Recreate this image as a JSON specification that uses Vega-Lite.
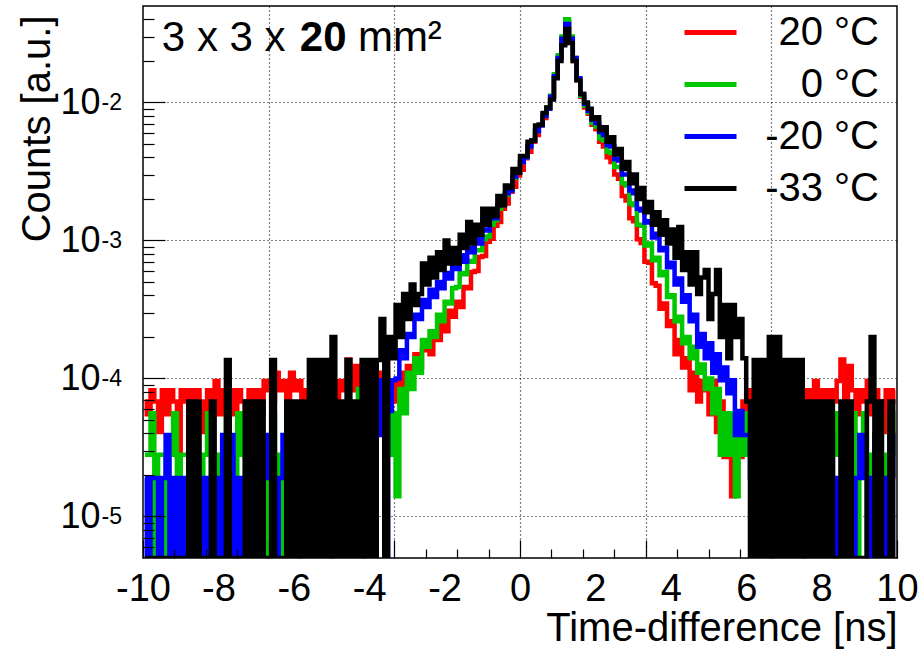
{
  "$schema": "https://vega.github.io/schema/vega-lite/v6.json",
  "width": 754,
  "height": 552,
  "autosize": {"type": "none"},
  "padding": {"left": 143, "top": 6, "right": 25, "bottom": 91},
  "background": "white",
  "config": {
    "view": {"stroke": "#000", "strokeWidth": 1.5},
    "font": "Liberation Sans"
  },
  "data": {
    "values": [
      {"x":-9.95,"r":6.8e-5,"g":2.8e-5,"b":1.9e-5,"k":1e-7},
      {"x":-9.85,"r":5.5e-5,"g":2.8e-5,"b":1e-7,"k":1e-7},
      {"x":-9.75,"r":8.2e-5,"g":5.6e-5,"b":1.9e-5,"k":1e-7},
      {"x":-9.65,"r":6.8e-5,"g":1e-7,"b":1.9e-5,"k":1e-7},
      {"x":-9.55,"r":4.1e-5,"g":2.8e-5,"b":1e-7,"k":1e-7},
      {"x":-9.45,"r":8.2e-5,"g":2.8e-5,"b":1.9e-5,"k":1e-7},
      {"x":-9.35,"r":5.5e-5,"g":1e-7,"b":3.9e-5,"k":1e-7},
      {"x":-9.25,"r":8.2e-5,"g":2.8e-5,"b":1e-7,"k":1e-7},
      {"x":-9.15,"r":6.8e-5,"g":5.6e-5,"b":1.9e-5,"k":1e-7},
      {"x":-9.05,"r":2.7e-5,"g":1e-7,"b":1e-7,"k":1e-7},
      {"x":-8.95,"r":8.2e-5,"g":2.8e-5,"b":1.9e-5,"k":1e-7},
      {"x":-8.85,"r":6.8e-5,"g":2.8e-5,"b":1e-7,"k":1e-7},
      {"x":-8.75,"r":8.2e-5,"g":1e-7,"b":1.9e-5,"k":6.8e-5},
      {"x":-8.65,"r":5.5e-5,"g":5.6e-5,"b":1e-7,"k":1e-7},
      {"x":-8.55,"r":8.2e-5,"g":2.8e-5,"b":1.9e-5,"k":6.8e-5},
      {"x":-8.45,"r":6.8e-5,"g":1e-7,"b":1.9e-5,"k":1e-7},
      {"x":-8.35,"r":4.1e-5,"g":2.8e-5,"b":1e-7,"k":1e-7},
      {"x":-8.25,"r":8.2e-5,"g":5.6e-5,"b":1.9e-5,"k":1e-7},
      {"x":-8.15,"r":6.8e-5,"g":1e-7,"b":1e-7,"k":6.8e-5},
      {"x":-8.05,"r":9.6e-5,"g":2.8e-5,"b":1.9e-5,"k":1e-7},
      {"x":-7.95,"r":5.5e-5,"g":1e-7,"b":1e-7,"k":1e-7},
      {"x":-7.85,"r":8.2e-5,"g":2.8e-5,"b":3.9e-5,"k":1e-7},
      {"x":-7.75,"r":6.8e-5,"g":5.6e-5,"b":1.9e-5,"k":1.36e-4},
      {"x":-7.65,"r":8.2e-5,"g":2.8e-5,"b":3.9e-5,"k":1e-7},
      {"x":-7.55,"r":5.5e-5,"g":1e-7,"b":1e-7,"k":1e-7},
      {"x":-7.45,"r":8.2e-5,"g":5.6e-5,"b":1.9e-5,"k":1e-7},
      {"x":-7.35,"r":6.8e-5,"g":2.8e-5,"b":1e-7,"k":1e-7},
      {"x":-7.25,"r":2.7e-5,"g":1e-7,"b":1.9e-5,"k":6.8e-5},
      {"x":-7.15,"r":8.2e-5,"g":2.8e-5,"b":1e-7,"k":1e-7},
      {"x":-7.05,"r":6.8e-5,"g":1e-7,"b":5.8e-5,"k":6.8e-5},
      {"x":-6.95,"r":8.2e-5,"g":5.6e-5,"b":1.9e-5,"k":1e-7},
      {"x":-6.85,"r":5.5e-5,"g":2.8e-5,"b":1e-7,"k":6.8e-5},
      {"x":-6.75,"r":9.6e-5,"g":1e-7,"b":1.9e-5,"k":1e-7},
      {"x":-6.65,"r":8.2e-5,"g":2.8e-5,"b":3.9e-5,"k":1e-7},
      {"x":-6.55,"r":6.8e-5,"g":5.6e-5,"b":1.9e-5,"k":1.36e-4},
      {"x":-6.45,"r":1.1e-4,"g":2.8e-5,"b":1e-7,"k":1e-7},
      {"x":-6.35,"r":8.2e-5,"g":1e-7,"b":1.9e-5,"k":1e-7},
      {"x":-6.25,"r":9.6e-5,"g":2.8e-5,"b":3.9e-5,"k":1e-7},
      {"x":-6.15,"r":6.8e-5,"g":5.6e-5,"b":1.9e-5,"k":6.8e-5},
      {"x":-6.05,"r":1.1e-4,"g":2.8e-5,"b":1e-7,"k":1e-7},
      {"x":-5.95,"r":8.2e-5,"g":1e-7,"b":1.9e-5,"k":6.8e-5},
      {"x":-5.85,"r":9.6e-5,"g":2.8e-5,"b":3.9e-5,"k":1e-7},
      {"x":-5.75,"r":6.8e-5,"g":5.6e-5,"b":1.9e-5,"k":6.8e-5},
      {"x":-5.65,"r":8.2e-5,"g":2.8e-5,"b":1e-7,"k":1e-7},
      {"x":-5.55,"r":5.5e-5,"g":1e-7,"b":1.9e-5,"k":1.36e-4},
      {"x":-5.45,"r":8.2e-5,"g":2.8e-5,"b":3.9e-5,"k":1e-7},
      {"x":-5.35,"r":9.6e-5,"g":5.6e-5,"b":1.9e-5,"k":1.36e-4},
      {"x":-5.25,"r":6.8e-5,"g":2.8e-5,"b":1e-7,"k":1e-7},
      {"x":-5.15,"r":8.2e-5,"g":1e-7,"b":3.9e-5,"k":1.36e-4},
      {"x":-5.05,"r":1.1e-4,"g":2.8e-5,"b":1.9e-5,"k":1e-7},
      {"x":-4.95,"r":8.2e-5,"g":5.6e-5,"b":3.9e-5,"k":2e-4},
      {"x":-4.85,"r":6.8e-5,"g":2.8e-5,"b":1.9e-5,"k":1e-7},
      {"x":-4.75,"r":9.6e-5,"g":1e-7,"b":1e-7,"k":6.8e-5},
      {"x":-4.65,"r":8.2e-5,"g":5.6e-5,"b":3.9e-5,"k":1e-7},
      {"x":-4.55,"r":1.37e-4,"g":2.8e-5,"b":1.9e-5,"k":1.36e-4},
      {"x":-4.45,"r":8.2e-5,"g":5.6e-5,"b":5.8e-5,"k":1e-7},
      {"x":-4.35,"r":1.23e-4,"g":2.8e-5,"b":3.9e-5,"k":6.8e-5},
      {"x":-4.25,"r":8.2e-5,"g":8.4e-5,"b":1.9e-5,"k":1e-7},
      {"x":-4.15,"r":9.6e-5,"g":5.6e-5,"b":3.9e-5,"k":1.36e-4},
      {"x":-4.05,"r":1.1e-4,"g":2.8e-5,"b":5.8e-5,"k":1e-7},
      {"x":-3.95,"r":8.2e-5,"g":8.4e-5,"b":3.9e-5,"k":1.36e-4},
      {"x":-3.85,"r":1.23e-4,"g":5.6e-5,"b":7.8e-5,"k":1e-7},
      {"x":-3.75,"r":9.6e-5,"g":8.4e-5,"b":3.9e-5,"k":1.36e-4},
      {"x":-3.65,"r":1.1e-4,"g":5.6e-5,"b":9.7e-5,"k":2.7e-4},
      {"x":-3.55,"r":1.37e-4,"g":1.1e-4,"b":1e-7,"k":1e-7},
      {"x":-3.45,"r":5.5e-5,"g":2.8e-5,"b":5.8e-5,"k":2.0e-4},
      {"x":-3.35,"r":9.6e-5,"g":5.6e-5,"b":9.7e-5,"k":1.4e-4},
      {"x":-3.25,"r":6.8e-5,"g":1.4e-5,"b":1.0e-4,"k":3.4e-4},
      {"x":-3.15,"r":1.1e-4,"g":8.4e-5,"b":1.6e-4,"k":2.0e-4},
      {"x":-3.05,"r":8.2e-5,"g":5.6e-5,"b":1.4e-4,"k":4.1e-4},
      {"x":-2.95,"r":1.23e-4,"g":1.1e-4,"b":2.1e-4,"k":2.7e-4},
      {"x":-2.85,"r":1.1e-4,"g":8.4e-5,"b":2.0e-4,"k":4.8e-4},
      {"x":-2.75,"r":1.5e-4,"g":1.4e-4,"b":2.9e-4,"k":3.4e-4},
      {"x":-2.65,"r":1.2e-4,"g":1.1e-4,"b":2.7e-4,"k":4.1e-4},
      {"x":-2.55,"r":1.6e-4,"g":1.9e-4,"b":3.7e-4,"k":6.8e-4},
      {"x":-2.45,"r":1.8e-4,"g":1.7e-4,"b":3.3e-4,"k":4.8e-4},
      {"x":-2.35,"r":1.5e-4,"g":2.2e-4,"b":4.4e-4,"k":7.5e-4},
      {"x":-2.25,"r":2.1e-4,"g":2.0e-4,"b":3.9e-4,"k":5.4e-4},
      {"x":-2.15,"r":1.9e-4,"g":2.9e-4,"b":5.0e-4,"k":8.2e-4},
      {"x":-2.05,"r":2.6e-4,"g":2.6e-4,"b":4.5e-4,"k":6.1e-4},
      {"x":-1.95,"r":2.2e-4,"g":3.6e-4,"b":5.8e-4,"k":1.0e-3},
      {"x":-1.85,"r":3.1e-4,"g":3.5e-4,"b":5.3e-4,"k":6.8e-4},
      {"x":-1.75,"r":2.8e-4,"g":4.5e-4,"b":6.6e-4,"k":8.8e-4},
      {"x":-1.65,"r":3.6e-4,"g":4.6e-4,"b":6.2e-4,"k":6.8e-4},
      {"x":-1.55,"r":3.3e-4,"g":5.8e-4,"b":7.8e-4,"k":1.1e-3},
      {"x":-1.45,"r":4.6e-4,"g":5.7e-4,"b":7.0e-4,"k":8.8e-4},
      {"x":-1.35,"r":4.5e-4,"g":7.1e-4,"b":8.8e-4,"k":1.36e-3},
      {"x":-1.25,"r":5.9e-4,"g":7.0e-4,"b":8.2e-4,"k":9.5e-4},
      {"x":-1.15,"r":6.0e-4,"g":8.5e-4,"b":1.02e-3,"k":1.3e-3},
      {"x":-1.05,"r":7.6e-4,"g":8.5e-4,"b":9.5e-4,"k":1.1e-3},
      {"x":-0.95,"r":7.7e-4,"g":1.02e-3,"b":1.2e-3,"k":1.7e-3},
      {"x":-0.85,"r":9.8e-4,"g":1.07e-3,"b":1.18e-3,"k":1.3e-3},
      {"x":-0.75,"r":1.03e-3,"g":1.3e-3,"b":1.47e-3,"k":1.7e-3},
      {"x":-0.65,"r":1.28e-3,"g":1.4e-3,"b":1.45e-3,"k":1.5e-3},
      {"x":-0.55,"r":1.36e-3,"g":1.7e-3,"b":1.8e-3,"k":2.1e-3},
      {"x":-0.45,"r":1.7e-3,"g":1.83e-3,"b":1.82e-3,"k":1.8e-3},
      {"x":-0.35,"r":1.85e-3,"g":2.15e-3,"b":2.2e-3,"k":2.5e-3},
      {"x":-0.25,"r":2.25e-3,"g":2.35e-3,"b":2.3e-3,"k":2.4e-3},
      {"x":-0.15,"r":2.45e-3,"g":2.85e-3,"b":2.9e-3,"k":3.3e-3},
      {"x":-0.05,"r":2.95e-3,"g":3.1e-3,"b":3.1e-3,"k":3.1e-3},
      {"x":0.05,"r":3.25e-3,"g":3.7e-3,"b":3.7e-3,"k":4.1e-3},
      {"x":0.15,"r":3.95e-3,"g":4.0e-3,"b":4.0e-3,"k":4.1e-3},
      {"x":0.25,"r":4.4e-3,"g":4.8e-3,"b":4.8e-3,"k":5.2e-3},
      {"x":0.35,"r":5.2e-3,"g":5.3e-3,"b":5.3e-3,"k":5.3e-3},
      {"x":0.45,"r":5.8e-3,"g":6.2e-3,"b":6.2e-3,"k":6.8e-3},
      {"x":0.55,"r":6.9e-3,"g":6.9e-3,"b":6.8e-3,"k":6.9e-3},
      {"x":0.65,"r":7.7e-3,"g":8.1e-3,"b":8.0e-3,"k":8.4e-3},
      {"x":0.75,"r":9.0e-3,"g":9.2e-3,"b":9.0e-3,"k":9.2e-3},
      {"x":0.85,"r":1.1e-2,"g":1.12e-2,"b":1.1e-2,"k":1.05e-2},
      {"x":0.95,"r":1.55e-2,"g":1.6e-2,"b":1.55e-2,"k":1.5e-2},
      {"x":1.05,"r":2.1e-2,"g":2.2e-2,"b":2.1e-2,"k":2.0e-2},
      {"x":1.15,"r":2.9e-2,"g":3.0e-2,"b":2.9e-2,"k":2.6e-2},
      {"x":1.25,"r":3.8e-2,"g":4.0e-2,"b":3.7e-2,"k":3.4e-2},
      {"x":1.35,"r":2.9e-2,"g":3.0e-2,"b":2.9e-2,"k":2.7e-2},
      {"x":1.45,"r":2.0e-2,"g":2.1e-2,"b":2.1e-2,"k":2.0e-2},
      {"x":1.55,"r":1.45e-2,"g":1.5e-2,"b":1.5e-2,"k":1.45e-2},
      {"x":1.65,"r":1.1e-2,"g":1.12e-2,"b":1.15e-2,"k":1.15e-2},
      {"x":1.75,"r":9.2e-3,"g":9.5e-3,"b":9.8e-3,"k":1.0e-2},
      {"x":1.85,"r":8.3e-3,"g":8.5e-3,"b":8.7e-3,"k":9.0e-3},
      {"x":1.95,"r":6.9e-3,"g":7.1e-3,"b":7.5e-3,"k":7.6e-3},
      {"x":2.05,"r":6.4e-3,"g":6.7e-3,"b":7.1e-3,"k":7.8e-3},
      {"x":2.15,"r":5.2e-3,"g":5.5e-3,"b":6.1e-3,"k":6.3e-3},
      {"x":2.25,"r":4.8e-3,"g":5.3e-3,"b":5.8e-3,"k":6.6e-3},
      {"x":2.35,"r":4.0e-3,"g":4.4e-3,"b":4.9e-3,"k":5.2e-3},
      {"x":2.45,"r":3.7e-3,"g":4.3e-3,"b":4.8e-3,"k":5.6e-3},
      {"x":2.55,"r":3.0e-3,"g":3.4e-3,"b":3.9e-3,"k":4.2e-3},
      {"x":2.65,"r":2.8e-3,"g":3.4e-3,"b":3.8e-3,"k":4.6e-3},
      {"x":2.75,"r":2.1e-3,"g":2.6e-3,"b":3.0e-3,"k":3.3e-3},
      {"x":2.85,"r":1.95e-3,"g":2.5e-3,"b":3.0e-3,"k":3.7e-3},
      {"x":2.95,"r":1.45e-3,"g":1.85e-3,"b":2.3e-3,"k":2.6e-3},
      {"x":3.05,"r":1.38e-3,"g":1.8e-3,"b":2.2e-3,"k":3.0e-3},
      {"x":3.15,"r":1.02e-3,"g":1.3e-3,"b":1.7e-3,"k":2.0e-3},
      {"x":3.25,"r":9.6e-4,"g":1.28e-3,"b":1.65e-3,"k":2.4e-3},
      {"x":3.35,"r":7.0e-4,"g":9.2e-4,"b":1.35e-3,"k":1.6e-3},
      {"x":3.45,"r":6.9e-4,"g":9.5e-4,"b":1.38e-3,"k":1.9e-3},
      {"x":3.55,"r":4.9e-4,"g":7.2e-4,"b":1.05e-3,"k":1.3e-3},
      {"x":3.65,"r":4.7e-4,"g":7.5e-4,"b":1.12e-3,"k":1.6e-3},
      {"x":3.75,"r":3.2e-4,"g":5.6e-4,"b":8.5e-4,"k":1.1e-3},
      {"x":3.85,"r":3.5e-4,"g":5.9e-4,"b":8.8e-4,"k":1.4e-3},
      {"x":3.95,"r":2.4e-4,"g":3.9e-4,"b":6.4e-4,"k":9.5e-4},
      {"x":4.05,"r":2.6e-4,"g":4.0e-4,"b":6.9e-4,"k":1.2e-3},
      {"x":4.15,"r":1.5e-4,"g":2.6e-4,"b":4.8e-4,"k":7.5e-4},
      {"x":4.25,"r":1.9e-4,"g":2.8e-4,"b":5.3e-4,"k":1.25e-3},
      {"x":4.35,"r":1.2e-4,"g":1.8e-4,"b":3.6e-4,"k":6.1e-4},
      {"x":4.45,"r":1.4e-4,"g":2.0e-4,"b":4.0e-4,"k":8.2e-4},
      {"x":4.55,"r":8.2e-5,"g":1.4e-4,"b":2.6e-4,"k":4.8e-4},
      {"x":4.65,"r":1.1e-4,"g":1.7e-4,"b":2.9e-4,"k":8.2e-4},
      {"x":4.75,"r":6.8e-5,"g":1.1e-4,"b":1.7e-4,"k":4.1e-4},
      {"x":4.85,"r":9.6e-5,"g":1.26e-4,"b":2.1e-4,"k":5.4e-4},
      {"x":4.95,"r":8.2e-5,"g":8.4e-5,"b":1.4e-4,"k":6.1e-4},
      {"x":5.05,"r":5.5e-5,"g":1.0e-4,"b":1.8e-4,"k":2.7e-4},
      {"x":5.15,"r":9.6e-5,"g":5.6e-5,"b":1.1e-4,"k":4.1e-4},
      {"x":5.25,"r":4.1e-5,"g":8.4e-5,"b":1.5e-4,"k":6.1e-4},
      {"x":5.35,"r":6.8e-5,"g":2.8e-5,"b":9.7e-5,"k":2.0e-4},
      {"x":5.45,"r":2.7e-5,"g":5.6e-5,"b":1.2e-4,"k":3.4e-4},
      {"x":5.55,"r":5.5e-5,"g":2.8e-5,"b":7.8e-5,"k":1.4e-4},
      {"x":5.65,"r":1.4e-5,"g":5.6e-5,"b":9.7e-5,"k":3.4e-4},
      {"x":5.75,"r":4.1e-5,"g":1.4e-5,"b":3.9e-5,"k":2.0e-4},
      {"x":5.85,"r":2.7e-5,"g":5.6e-5,"b":5.8e-5,"k":2.7e-4},
      {"x":5.95,"r":6.8e-5,"g":2.8e-5,"b":3.9e-5,"k":1.4e-4},
      {"x":6.05,"r":5.5e-5,"g":5.6e-5,"b":3.9e-5,"k":6.8e-5},
      {"x":6.15,"r":8.2e-5,"g":2.8e-5,"b":1.9e-5,"k":1e-7},
      {"x":6.25,"r":6.8e-5,"g":1e-7,"b":5.8e-5,"k":1.36e-4},
      {"x":6.35,"r":9.6e-5,"g":2.8e-5,"b":1e-7,"k":1e-7},
      {"x":6.45,"r":5.5e-5,"g":5.6e-5,"b":3.9e-5,"k":1.36e-4},
      {"x":6.55,"r":8.2e-5,"g":2.8e-5,"b":1.9e-5,"k":1e-7},
      {"x":6.65,"r":6.8e-5,"g":1e-7,"b":1e-7,"k":2e-4},
      {"x":6.75,"r":4.1e-5,"g":2.8e-5,"b":3.9e-5,"k":1e-7},
      {"x":6.85,"r":8.2e-5,"g":5.6e-5,"b":1.9e-5,"k":2e-4},
      {"x":6.95,"r":6.8e-5,"g":2.8e-5,"b":1e-7,"k":1e-7},
      {"x":7.05,"r":9.6e-5,"g":1e-7,"b":1.9e-5,"k":1.36e-4},
      {"x":7.15,"r":5.5e-5,"g":2.8e-5,"b":3.9e-5,"k":1e-7},
      {"x":7.25,"r":8.2e-5,"g":2.8e-5,"b":1e-7,"k":1.36e-4},
      {"x":7.35,"r":6.8e-5,"g":5.6e-5,"b":1.9e-5,"k":1e-7},
      {"x":7.45,"r":1.1e-4,"g":1e-7,"b":1.9e-5,"k":1.36e-4},
      {"x":7.55,"r":6.8e-5,"g":2.8e-5,"b":1e-7,"k":1e-7},
      {"x":7.65,"r":8.2e-5,"g":5.6e-5,"b":3.9e-5,"k":6.8e-5},
      {"x":7.75,"r":5.5e-5,"g":2.8e-5,"b":1.9e-5,"k":1e-7},
      {"x":7.85,"r":9.6e-5,"g":1e-7,"b":1e-7,"k":6.8e-5},
      {"x":7.95,"r":6.8e-5,"g":2.8e-5,"b":1.9e-5,"k":1e-7},
      {"x":8.05,"r":8.2e-5,"g":2.8e-5,"b":1e-7,"k":6.8e-5},
      {"x":8.15,"r":5.5e-5,"g":5.6e-5,"b":1.9e-5,"k":1e-7},
      {"x":8.25,"r":8.2e-5,"g":1e-7,"b":3.9e-5,"k":6.8e-5},
      {"x":8.35,"r":6.8e-5,"g":2.8e-5,"b":1.9e-5,"k":1e-7},
      {"x":8.45,"r":9.6e-5,"g":5.6e-5,"b":1e-7,"k":1e-7},
      {"x":8.55,"r":1.37e-4,"g":2.8e-5,"b":1.9e-5,"k":6.8e-5},
      {"x":8.65,"r":6.8e-5,"g":1e-7,"b":3.9e-5,"k":1e-7},
      {"x":8.75,"r":1.23e-4,"g":2.8e-5,"b":1.9e-5,"k":6.8e-5},
      {"x":8.85,"r":8.2e-5,"g":5.6e-5,"b":1e-7,"k":1e-7},
      {"x":8.95,"r":5.5e-5,"g":1e-7,"b":1.9e-5,"k":1e-7},
      {"x":9.05,"r":8.2e-5,"g":2.8e-5,"b":3.9e-5,"k":1e-7},
      {"x":9.15,"r":6.8e-5,"g":5.6e-5,"b":1.9e-5,"k":1e-7},
      {"x":9.25,"r":9.6e-5,"g":1e-7,"b":1e-7,"k":6.8e-5},
      {"x":9.35,"r":5.5e-5,"g":2.8e-5,"b":1.9e-5,"k":2e-4},
      {"x":9.45,"r":8.2e-5,"g":2.8e-5,"b":3.9e-5,"k":1e-7},
      {"x":9.55,"r":6.8e-5,"g":5.6e-5,"b":1.9e-5,"k":6.8e-5},
      {"x":9.65,"r":4.1e-5,"g":1e-7,"b":1e-7,"k":1e-7},
      {"x":9.75,"r":8.2e-5,"g":2.8e-5,"b":1.9e-5,"k":1e-7},
      {"x":9.85,"r":6.8e-5,"g":5.6e-5,"b":3.9e-5,"k":6.8e-5},
      {"x":9.95,"r":8.2e-5,"g":2.8e-5,"b":1.9e-5,"k":1e-7}
    ]
  },
  "resolve": {"axis": {"x": "independent", "y": "independent"}},
  "layer": [
    {
      "mark": {"type": "line", "interpolate": "step", "strokeWidth": 4.5, "clip": true},
      "encoding": {
        "x": {"field": "x", "type": "quantitative",
          "scale": {"domain": [-10, 10], "nice": false, "zero": false},
          "axis": {"orient": "bottom", "values": [-6.6667, -3.3333, 0, 3.3333, 6.6667], "grid": true, "gridDash": [1, 3], "gridColor": "#000", "gridOpacity": 1, "gridWidth": 1.2, "ticks": false, "labels": false, "domain": false, "title": null, "zindex": 0}},
        "y": {"field": "r", "type": "quantitative",
          "scale": {"type": "log", "domain": [5e-6, 0.05], "nice": false, "clamp": true},
          "axis": {"orient": "left", "values": [1e-5, 1e-4, 1e-3, 1e-2], "grid": true, "gridDash": [1, 3], "gridColor": "#000", "gridOpacity": 1, "gridWidth": 1.2, "ticks": false, "domain": false, "labelExpr": "'10'", "labelFont": "Liberation Sans", "labelFontSize": 36, "labelColor": "#000", "labelPadding": 43, "labelOverlap": false, "title": "Counts [a.u.]", "titleFont": "Liberation Sans", "titleFontSize": 40, "titleFontWeight": "normal", "titleColor": "#000", "titleAnchor": "end", "titleY": 9, "titlePadding": 2, "zindex": 0}},
        "color": {"datum": "20 °C",
          "scale": {"domain": ["20 °C", "0 °C", "-20 °C", "-33 °C"], "range": ["#ff0000", "#00c800", "#0000ff", "#000000"]},
          "legend": {"orient": "none", "legendX": 539, "legendY": -2, "title": null, "symbolType": "stroke", "symbolSize": 2704, "symbolStrokeWidth": 5, "labelFont": "Liberation Sans", "labelFontSize": 40, "labelColor": "#000", "labelAlign": "right", "labelOffset": 140, "labelLimit": 400, "rowPadding": 3, "padding": 0}}
      }
    },
    {
      "mark": {"type": "line", "interpolate": "step", "strokeWidth": 4.5, "clip": true},
      "encoding": {
        "x": {"field": "x", "type": "quantitative",
          "axis": {"orient": "bottom", "values": [-10, -6.6667, -3.3333, 0, 3.3333, 6.6667, 10], "grid": false, "ticks": true, "tickSize": -18, "tickColor": "#000", "tickWidth": 1.2, "labels": false, "domain": false, "title": null, "zindex": 2}},
        "y": {"field": "g", "type": "quantitative",
          "axis": {"orient": "left", "values": [1e-5, 1e-4, 1e-3, 1e-2], "grid": false, "ticks": true, "tickSize": -22, "tickColor": "#000", "tickWidth": 1.2, "labels": false, "domain": false, "title": null, "zindex": 2}},
        "color": {"datum": "0 °C"}
      }
    },
    {
      "mark": {"type": "line", "interpolate": "step", "strokeWidth": 4.5, "clip": true},
      "encoding": {
        "x": {"field": "x", "type": "quantitative",
          "axis": {"orient": "bottom", "values": [-10, -8, -6, -4, -2, 0, 2, 4, 6, 8, 10], "grid": false, "ticks": false, "domain": false, "labelExpr": "datum.value < 0 ? '-' + abs(datum.value) : '' + datum.value", "labelFont": "Liberation Sans", "labelFontSize": 38, "labelColor": "#000", "labelDx": -6, "labelPadding": 12, "labelFlush": false, "labelOverlap": false, "labelBound": false, "title": "Time-difference [ns]", "titleFont": "Liberation Sans", "titleFontSize": 40, "titleFontWeight": "normal", "titleColor": "#000", "titleAnchor": "end", "titlePadding": 0, "zindex": 1}},
        "y": {"field": "b", "type": "quantitative",
          "axis": {"orient": "left", "values": [1e-5, 1e-4, 1e-3, 1e-2], "grid": false, "ticks": false, "domain": false, "labelExpr": "datum.value < 2e-5 ? '-5' : datum.value < 2e-4 ? '-4' : datum.value < 2e-3 ? '-3' : '-2'", "labelFont": "Liberation Sans", "labelFontSize": 23, "labelColor": "#000", "labelAlign": "left", "labelPadding": 42, "labelDy": -11, "labelOverlap": false, "title": null, "zindex": 1}},
        "color": {"datum": "-20 °C"}
      }
    },
    {
      "mark": {"type": "line", "interpolate": "step", "strokeWidth": 4.5, "clip": true},
      "encoding": {
        "x": {"field": "x", "type": "quantitative",
          "axis": {"orient": "bottom", "values": [-9.1667, -8.3333, -7.5, -5.8333, -5, -4.1667, -2.5, -1.6667, -0.8333, 0.8333, 1.6667, 2.5, 4.1667, 5, 5.8333, 7.5, 8.3333, 9.1667], "grid": false, "ticks": true, "tickSize": -9, "tickColor": "#000", "tickWidth": 1.2, "labels": false, "domain": false, "title": null, "zindex": 2}},
        "y": {"field": "k", "type": "quantitative",
          "axis": {"orient": "left", "values": [6e-6, 7e-6, 8e-6, 9e-6, 2e-5, 3e-5, 4e-5, 5e-5, 6e-5, 7e-5, 8e-5, 9e-5, 2e-4, 3e-4, 4e-4, 5e-4, 6e-4, 7e-4, 8e-4, 9e-4, 2e-3, 3e-3, 4e-3, 5e-3, 6e-3, 7e-3, 8e-3, 9e-3, 2e-2, 3e-2, 4e-2], "grid": false, "ticks": true, "tickSize": -11, "tickColor": "#000", "tickWidth": 1.2, "labels": false, "domain": false, "title": null, "zindex": 2}},
        "color": {"datum": "-33 °C"}
      }
    },
    {
      "data": {"values": [{"t": "3 x 3 x"}]},
      "mark": {"type": "text", "align": "left", "baseline": "alphabetic", "font": "Liberation Sans", "fontSize": 42, "fontWeight": "normal", "fill": "#000", "stroke": null},
      "encoding": {
        "x": {"datum": -9.5, "type": "quantitative", "axis": null},
        "y": {"datum": 0.0237, "type": "quantitative", "axis": null},
        "text": {"field": "t"}
      }
    },
    {
      "data": {"values": [{"t": "20"}]},
      "mark": {"type": "text", "align": "left", "baseline": "alphabetic", "font": "Liberation Sans", "fontSize": 42, "fontWeight": "bold", "fill": "#000", "stroke": null},
      "encoding": {
        "x": {"datum": -5.84, "type": "quantitative", "axis": null},
        "y": {"datum": 0.0237, "type": "quantitative", "axis": null},
        "text": {"field": "t"}
      }
    },
    {
      "data": {"values": [{"t": "mm²"}]},
      "mark": {"type": "text", "align": "left", "baseline": "alphabetic", "font": "Liberation Sans", "fontSize": 42, "fontWeight": "normal", "fill": "#000", "stroke": null},
      "encoding": {
        "x": {"datum": -4.3, "type": "quantitative", "axis": null},
        "y": {"datum": 0.0237, "type": "quantitative", "axis": null},
        "text": {"field": "t"}
      }
    }
  ]
}
